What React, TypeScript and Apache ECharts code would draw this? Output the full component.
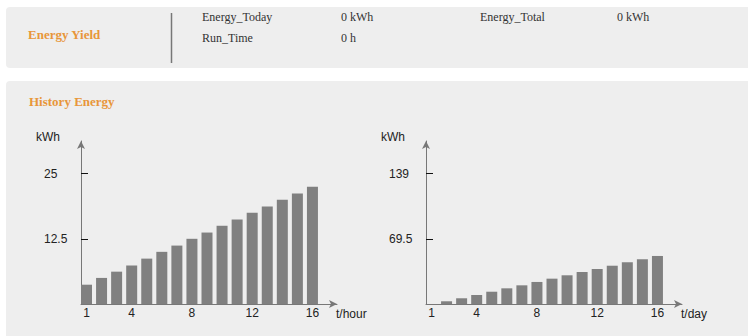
import React, { useEffect, useRef } from "react";
import * as echarts from "echarts";

// ---- data ----
const hourCategories = [1, 2, 3, 4, 5, 6, 7, 8, 9, 10, 11, 12, 13, 14, 15, 16];
const hourValues = [3.7, 5.0, 6.2, 7.4, 8.7, 10.0, 11.2, 12.5, 13.7, 15.0, 16.2, 17.5, 18.7, 20.0, 21.2, 22.5];
const dayCategories = [1, 2, 3, 4, 5, 6, 7, 8, 9, 10, 11, 12, 13, 14, 15, 16];
const dayValues = [0, 2.9, 6.1, 9.6, 13.1, 16.7, 19.9, 23.5, 27.0, 30.6, 34.1, 37.3, 40.8, 44.5, 47.7, 51.2];
const xTickLabels = [1, 4, 8, 12, 16];
const hourYTicks = [12.5, 25];
const dayYTicks = [69.5, 139];
const hourYMax = 31.25;
const dayYMax = 173.75;
const xMin = 0.635;
const xMax = 17.63;

const SANS = "'Liberation Sans', Arial, sans-serif";
const SERIF = "'Liberation Serif', 'Times New Roman', serif";
const ORANGE = "#e8963a";

function xAxisOpt(gridIndex: number, name: string) {
  return {
    type: "value",
    gridIndex,
    min: xMin,
    max: xMax,
    name,
    nameLocation: "end",
    nameGap: -1,
    nameTextStyle: {
      fontFamily: SANS,
      fontSize: 12,
      color: "#222",
      align: "left",
      verticalAlign: "top",
      padding: [4, 0, 0, 0],
    },
    splitLine: { show: false },
    axisTick: { show: false },
    axisLine: {
      show: true,
      symbol: ["none", "arrow"],
      symbolSize: [6, 8],
      lineStyle: { color: "#777", width: 1 },
    },
    axisLabel: {
      customValues: xTickLabels,
      margin: 3,
      fontFamily: SANS,
      fontSize: 12,
      color: "#222",
    },
  };
}

function yAxisOpt(gridIndex: number, max: number, ticks: number[]) {
  return {
    type: "value",
    gridIndex,
    min: 0,
    max,
    name: "kWh",
    nameLocation: "end",
    nameGap: 4,
    nameTextStyle: {
      fontFamily: SANS,
      fontSize: 12,
      color: "#222",
      align: "right",
      verticalAlign: "middle",
      padding: [0, 21, 0, 0],
    },
    splitLine: { show: false },
    axisLine: {
      show: true,
      symbol: ["none", "arrow"],
      symbolSize: [6, 8],
      lineStyle: { color: "#777", width: 1 },
    },
    axisTick: {
      show: true,
      inside: true,
      length: 7,
      customValues: ticks,
      lineStyle: { color: "#111", width: 1 },
    },
    axisLabel: {
      customValues: ticks,
      align: "left",
      margin: 37,
      padding: [0, 0, 6, 0],
      fontFamily: SANS,
      fontSize: 12,
      color: "#222",
    },
  };
}

export default function App() {
  const ref = useRef<HTMLDivElement>(null);

  useEffect(() => {
    if (!ref.current) return;
    const chart = echarts.init(ref.current, null, { renderer: "svg" });
    const txt = (text: string, x: number, y: number, extra: any = {}) => ({
      type: "text",
      x,
      y,
      z: 50,
      style: {
        text,
        fontFamily: SERIF,
        fontSize: 12,
        fill: "#333",
        verticalAlign: "middle",
        align: "left",
        ...extra,
      },
    });
    chart.setOption({
      animation: false,
      backgroundColor: "#ffffff",
      graphic: {
        elements: [
          {
            type: "rect",
            z: -10,
            shape: { x: 6, y: 7, width: 780, height: 61, r: 4 },
            style: { fill: "#eeeeee" },
          },
          {
            type: "rect",
            z: -10,
            shape: { x: 6, y: 81, width: 780, height: 280, r: 4 },
            style: { fill: "#eeeeee" },
          },
          {
            type: "line",
            z: 50,
            shape: { x1: 171.5, y1: 13, x2: 171.5, y2: 63 },
            style: { stroke: "#777", lineWidth: 1.5 },
          },
          txt("Energy Yield", 28, 34, { fontSize: 13, fontWeight: "bold", fill: ORANGE }),
          txt("Energy_Today", 202, 17),
          txt("0 kWh", 341, 17),
          txt("Energy_Total", 480, 17),
          txt("0 kWh", 617, 17),
          txt("Run_Time", 202, 38),
          txt("0 h", 341, 38),
          txt("History Energy", 29, 101, { fontSize: 13, fontWeight: "bold", fill: ORANGE }),
        ],
      },
      grid: [
        { left: 81, top: 141, width: 256, height: 163 },
        { left: 426, top: 141, width: 256, height: 163 },
      ],
      xAxis: [xAxisOpt(0, "t/hour"), xAxisOpt(1, "t/day")],
      yAxis: [yAxisOpt(0, hourYMax, hourYTicks), yAxisOpt(1, dayYMax, dayYTicks)],
      series: [
        {
          type: "bar",
          xAxisIndex: 0,
          yAxisIndex: 0,
          barWidth: 11,
          itemStyle: { color: "#808080" },
          data: hourCategories.map((c, i) => [c, hourValues[i]]),
        },
        {
          type: "bar",
          xAxisIndex: 1,
          yAxisIndex: 1,
          barWidth: 11,
          itemStyle: { color: "#808080" },
          data: dayCategories.map((c, i) => [c, dayValues[i]]),
        },
      ],
    });
    return () => chart.dispose();
  }, []);

  return (
    <div
      ref={ref}
      style={{ position: "fixed", left: 0, top: 0, width: 748, height: 336 }}
    />
  );
}
